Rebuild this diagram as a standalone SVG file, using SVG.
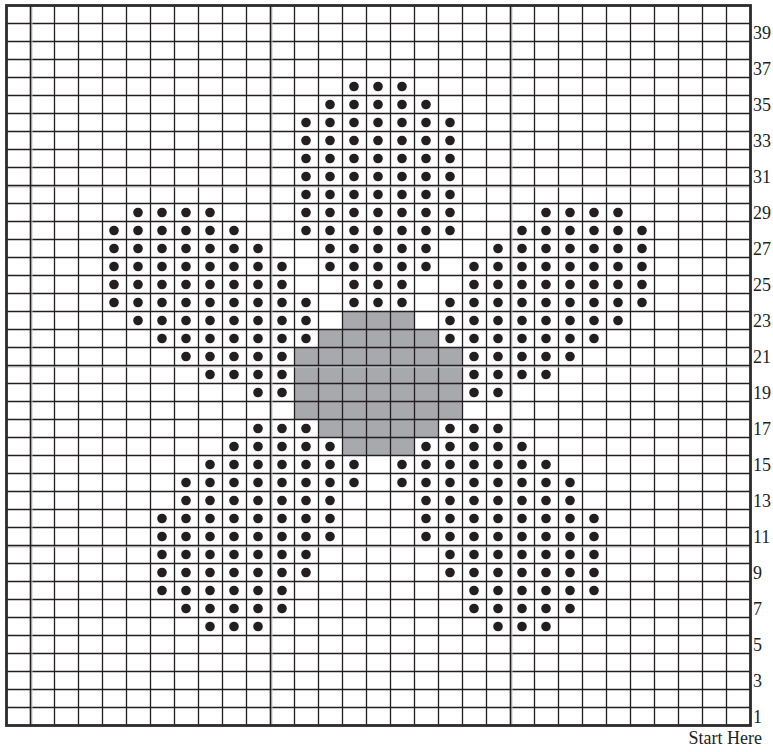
<svg xmlns="http://www.w3.org/2000/svg" width="773" height="752" viewBox="0 0 773 752">
<defs>
<circle id="d" r="4.8" fill="#231f20"/>
</defs>
<style>
.grid{stroke:#231f20;stroke-width:1.3;fill:none}
.heavy{stroke:#231f20;stroke-width:1.6;fill:none}
.shade{stroke:#c4c4c4;stroke-width:1.1;fill:none}
.border{stroke:#2d2a2b;stroke-width:2.8;fill:none}
.center{fill:#a7a9ac}
circle{fill:#231f20}
.lbl{font-family:"Liberation Serif","Times New Roman",serif;font-size:18px;fill:#231f20}
</style>
<rect width="773" height="752" fill="#ffffff"/>
<g id="center-shading">
<path class="center" d="M342.5 311.5H414.5V329.5H438.5V347.5H462.5V419.5H438.5V437.5H414.5V455.5H342.5V437.5H318.5V419.5H294.5V347.5H318.5V329.5H342.5Z"/>
</g>
<g id="grid">
<path class="grid" d="M54.5 5.5V725.5M78.5 5.5V725.5M102.5 5.5V725.5M126.5 5.5V725.5M150.5 5.5V725.5M174.5 5.5V725.5M198.5 5.5V725.5M222.5 5.5V725.5M246.5 5.5V725.5M294.5 5.5V725.5M318.5 5.5V725.5M342.5 5.5V725.5M366.5 5.5V725.5M390.5 5.5V725.5M414.5 5.5V725.5M438.5 5.5V725.5M462.5 5.5V725.5M486.5 5.5V725.5M534.5 5.5V725.5M558.5 5.5V725.5M582.5 5.5V725.5M606.5 5.5V725.5M630.5 5.5V725.5M654.5 5.5V725.5M678.5 5.5V725.5M702.5 5.5V725.5M726.5 5.5V725.5"/>
<path class="grid" d="M6.5 23.5H750.5M6.5 41.5H750.5M6.5 59.5H750.5M6.5 77.5H750.5M6.5 95.5H750.5M6.5 113.5H750.5M6.5 131.5H750.5M6.5 149.5H750.5M6.5 167.5H750.5M6.5 203.5H750.5M6.5 221.5H750.5M6.5 239.5H750.5M6.5 257.5H750.5M6.5 275.5H750.5M6.5 293.5H750.5M6.5 311.5H750.5M6.5 329.5H750.5M6.5 347.5H750.5M6.5 383.5H750.5M6.5 401.5H750.5M6.5 419.5H750.5M6.5 437.5H750.5M6.5 455.5H750.5M6.5 473.5H750.5M6.5 491.5H750.5M6.5 509.5H750.5M6.5 527.5H750.5M6.5 563.5H750.5M6.5 581.5H750.5M6.5 599.5H750.5M6.5 617.5H750.5M6.5 635.5H750.5M6.5 653.5H750.5M6.5 671.5H750.5M6.5 689.5H750.5M6.5 707.5H750.5"/>
<path class="shade" d="M31.9 5.5V725.5M271.9 5.5V725.5M511.9 5.5V725.5M6.5 186.9H750.5M6.5 366.9H750.5M6.5 546.9H750.5"/>
<path class="heavy" d="M30.5 5.5V725.5M270.5 5.5V725.5M510.5 5.5V725.5M6.5 185.5H750.5M6.5 365.5H750.5M6.5 545.5H750.5"/>
<rect class="border" x="6.5" y="5.5" width="744" height="720"/>
</g>
<g id="petal-top">
<circle cx="354" cy="86.5" r="4.8"/><circle cx="378" cy="86.5" r="4.8"/><circle cx="402" cy="86.5" r="4.8"/>
<circle cx="330" cy="104.5" r="4.8"/><circle cx="354" cy="104.5" r="4.8"/><circle cx="378" cy="104.5" r="4.8"/><circle cx="402" cy="104.5" r="4.8"/><circle cx="426" cy="104.5" r="4.8"/>
<circle cx="306" cy="122.5" r="4.8"/><circle cx="330" cy="122.5" r="4.8"/><circle cx="354" cy="122.5" r="4.8"/><circle cx="378" cy="122.5" r="4.8"/><circle cx="402" cy="122.5" r="4.8"/><circle cx="426" cy="122.5" r="4.8"/><circle cx="450" cy="122.5" r="4.8"/>
<circle cx="306" cy="140.5" r="4.8"/><circle cx="330" cy="140.5" r="4.8"/><circle cx="354" cy="140.5" r="4.8"/><circle cx="378" cy="140.5" r="4.8"/><circle cx="402" cy="140.5" r="4.8"/><circle cx="426" cy="140.5" r="4.8"/><circle cx="450" cy="140.5" r="4.8"/>
<circle cx="306" cy="158.5" r="4.8"/><circle cx="330" cy="158.5" r="4.8"/><circle cx="354" cy="158.5" r="4.8"/><circle cx="378" cy="158.5" r="4.8"/><circle cx="402" cy="158.5" r="4.8"/><circle cx="426" cy="158.5" r="4.8"/><circle cx="450" cy="158.5" r="4.8"/>
<circle cx="306" cy="176.5" r="4.8"/><circle cx="330" cy="176.5" r="4.8"/><circle cx="354" cy="176.5" r="4.8"/><circle cx="378" cy="176.5" r="4.8"/><circle cx="402" cy="176.5" r="4.8"/><circle cx="426" cy="176.5" r="4.8"/><circle cx="450" cy="176.5" r="4.8"/>
<circle cx="306" cy="194.5" r="4.8"/><circle cx="330" cy="194.5" r="4.8"/><circle cx="354" cy="194.5" r="4.8"/><circle cx="378" cy="194.5" r="4.8"/><circle cx="402" cy="194.5" r="4.8"/><circle cx="426" cy="194.5" r="4.8"/><circle cx="450" cy="194.5" r="4.8"/>
<circle cx="306" cy="212.5" r="4.8"/><circle cx="330" cy="212.5" r="4.8"/><circle cx="354" cy="212.5" r="4.8"/><circle cx="378" cy="212.5" r="4.8"/><circle cx="402" cy="212.5" r="4.8"/><circle cx="426" cy="212.5" r="4.8"/><circle cx="450" cy="212.5" r="4.8"/>
<circle cx="306" cy="230.5" r="4.8"/><circle cx="330" cy="230.5" r="4.8"/><circle cx="354" cy="230.5" r="4.8"/><circle cx="378" cy="230.5" r="4.8"/><circle cx="402" cy="230.5" r="4.8"/><circle cx="426" cy="230.5" r="4.8"/><circle cx="450" cy="230.5" r="4.8"/>
<circle cx="330" cy="248.5" r="4.8"/><circle cx="354" cy="248.5" r="4.8"/><circle cx="378" cy="248.5" r="4.8"/><circle cx="402" cy="248.5" r="4.8"/><circle cx="426" cy="248.5" r="4.8"/>
<circle cx="330" cy="266.5" r="4.8"/><circle cx="354" cy="266.5" r="4.8"/><circle cx="378" cy="266.5" r="4.8"/><circle cx="402" cy="266.5" r="4.8"/><circle cx="426" cy="266.5" r="4.8"/>
<circle cx="354" cy="284.5" r="4.8"/><circle cx="378" cy="284.5" r="4.8"/><circle cx="402" cy="284.5" r="4.8"/>
<circle cx="354" cy="302.5" r="4.8"/><circle cx="378" cy="302.5" r="4.8"/><circle cx="402" cy="302.5" r="4.8"/>
</g>
<g id="petal-left">
<circle cx="138" cy="212.5" r="4.8"/><circle cx="162" cy="212.5" r="4.8"/><circle cx="186" cy="212.5" r="4.8"/><circle cx="210" cy="212.5" r="4.8"/>
<circle cx="114" cy="230.5" r="4.8"/><circle cx="138" cy="230.5" r="4.8"/><circle cx="162" cy="230.5" r="4.8"/><circle cx="186" cy="230.5" r="4.8"/><circle cx="210" cy="230.5" r="4.8"/><circle cx="234" cy="230.5" r="4.8"/>
<circle cx="114" cy="248.5" r="4.8"/><circle cx="138" cy="248.5" r="4.8"/><circle cx="162" cy="248.5" r="4.8"/><circle cx="186" cy="248.5" r="4.8"/><circle cx="210" cy="248.5" r="4.8"/><circle cx="234" cy="248.5" r="4.8"/><circle cx="258" cy="248.5" r="4.8"/>
<circle cx="114" cy="266.5" r="4.8"/><circle cx="138" cy="266.5" r="4.8"/><circle cx="162" cy="266.5" r="4.8"/><circle cx="186" cy="266.5" r="4.8"/><circle cx="210" cy="266.5" r="4.8"/><circle cx="234" cy="266.5" r="4.8"/><circle cx="258" cy="266.5" r="4.8"/><circle cx="282" cy="266.5" r="4.8"/>
<circle cx="114" cy="284.5" r="4.8"/><circle cx="138" cy="284.5" r="4.8"/><circle cx="162" cy="284.5" r="4.8"/><circle cx="186" cy="284.5" r="4.8"/><circle cx="210" cy="284.5" r="4.8"/><circle cx="234" cy="284.5" r="4.8"/><circle cx="258" cy="284.5" r="4.8"/><circle cx="282" cy="284.5" r="4.8"/>
<circle cx="114" cy="302.5" r="4.8"/><circle cx="138" cy="302.5" r="4.8"/><circle cx="162" cy="302.5" r="4.8"/><circle cx="186" cy="302.5" r="4.8"/><circle cx="210" cy="302.5" r="4.8"/><circle cx="234" cy="302.5" r="4.8"/><circle cx="258" cy="302.5" r="4.8"/><circle cx="282" cy="302.5" r="4.8"/><circle cx="306" cy="302.5" r="4.8"/>
<circle cx="138" cy="320.5" r="4.8"/><circle cx="162" cy="320.5" r="4.8"/><circle cx="186" cy="320.5" r="4.8"/><circle cx="210" cy="320.5" r="4.8"/><circle cx="234" cy="320.5" r="4.8"/><circle cx="258" cy="320.5" r="4.8"/><circle cx="282" cy="320.5" r="4.8"/><circle cx="306" cy="320.5" r="4.8"/>
<circle cx="162" cy="338.5" r="4.8"/><circle cx="186" cy="338.5" r="4.8"/><circle cx="210" cy="338.5" r="4.8"/><circle cx="234" cy="338.5" r="4.8"/><circle cx="258" cy="338.5" r="4.8"/><circle cx="282" cy="338.5" r="4.8"/><circle cx="306" cy="338.5" r="4.8"/>
<circle cx="186" cy="356.5" r="4.8"/><circle cx="210" cy="356.5" r="4.8"/><circle cx="234" cy="356.5" r="4.8"/><circle cx="258" cy="356.5" r="4.8"/><circle cx="282" cy="356.5" r="4.8"/>
<circle cx="210" cy="374.5" r="4.8"/><circle cx="234" cy="374.5" r="4.8"/><circle cx="258" cy="374.5" r="4.8"/><circle cx="282" cy="374.5" r="4.8"/>
<circle cx="258" cy="392.5" r="4.8"/><circle cx="282" cy="392.5" r="4.8"/>
</g>
<g id="petal-right">
<circle cx="546" cy="212.5" r="4.8"/><circle cx="570" cy="212.5" r="4.8"/><circle cx="594" cy="212.5" r="4.8"/><circle cx="618" cy="212.5" r="4.8"/>
<circle cx="522" cy="230.5" r="4.8"/><circle cx="546" cy="230.5" r="4.8"/><circle cx="570" cy="230.5" r="4.8"/><circle cx="594" cy="230.5" r="4.8"/><circle cx="618" cy="230.5" r="4.8"/><circle cx="642" cy="230.5" r="4.8"/>
<circle cx="498" cy="248.5" r="4.8"/><circle cx="522" cy="248.5" r="4.8"/><circle cx="546" cy="248.5" r="4.8"/><circle cx="570" cy="248.5" r="4.8"/><circle cx="594" cy="248.5" r="4.8"/><circle cx="618" cy="248.5" r="4.8"/><circle cx="642" cy="248.5" r="4.8"/>
<circle cx="474" cy="266.5" r="4.8"/><circle cx="498" cy="266.5" r="4.8"/><circle cx="522" cy="266.5" r="4.8"/><circle cx="546" cy="266.5" r="4.8"/><circle cx="570" cy="266.5" r="4.8"/><circle cx="594" cy="266.5" r="4.8"/><circle cx="618" cy="266.5" r="4.8"/><circle cx="642" cy="266.5" r="4.8"/>
<circle cx="474" cy="284.5" r="4.8"/><circle cx="498" cy="284.5" r="4.8"/><circle cx="522" cy="284.5" r="4.8"/><circle cx="546" cy="284.5" r="4.8"/><circle cx="570" cy="284.5" r="4.8"/><circle cx="594" cy="284.5" r="4.8"/><circle cx="618" cy="284.5" r="4.8"/><circle cx="642" cy="284.5" r="4.8"/>
<circle cx="450" cy="302.5" r="4.8"/><circle cx="474" cy="302.5" r="4.8"/><circle cx="498" cy="302.5" r="4.8"/><circle cx="522" cy="302.5" r="4.8"/><circle cx="546" cy="302.5" r="4.8"/><circle cx="570" cy="302.5" r="4.8"/><circle cx="594" cy="302.5" r="4.8"/><circle cx="618" cy="302.5" r="4.8"/><circle cx="642" cy="302.5" r="4.8"/>
<circle cx="450" cy="320.5" r="4.8"/><circle cx="474" cy="320.5" r="4.8"/><circle cx="498" cy="320.5" r="4.8"/><circle cx="522" cy="320.5" r="4.8"/><circle cx="546" cy="320.5" r="4.8"/><circle cx="570" cy="320.5" r="4.8"/><circle cx="594" cy="320.5" r="4.8"/><circle cx="618" cy="320.5" r="4.8"/>
<circle cx="450" cy="338.5" r="4.8"/><circle cx="474" cy="338.5" r="4.8"/><circle cx="498" cy="338.5" r="4.8"/><circle cx="522" cy="338.5" r="4.8"/><circle cx="546" cy="338.5" r="4.8"/><circle cx="570" cy="338.5" r="4.8"/><circle cx="594" cy="338.5" r="4.8"/>
<circle cx="474" cy="356.5" r="4.8"/><circle cx="498" cy="356.5" r="4.8"/><circle cx="522" cy="356.5" r="4.8"/><circle cx="546" cy="356.5" r="4.8"/><circle cx="570" cy="356.5" r="4.8"/>
<circle cx="474" cy="374.5" r="4.8"/><circle cx="498" cy="374.5" r="4.8"/><circle cx="522" cy="374.5" r="4.8"/><circle cx="546" cy="374.5" r="4.8"/>
<circle cx="474" cy="392.5" r="4.8"/><circle cx="498" cy="392.5" r="4.8"/>
</g>
<g id="petal-lower-left">
<circle cx="258" cy="428.5" r="4.8"/><circle cx="282" cy="428.5" r="4.8"/><circle cx="306" cy="428.5" r="4.8"/>
<circle cx="234" cy="446.5" r="4.8"/><circle cx="258" cy="446.5" r="4.8"/><circle cx="282" cy="446.5" r="4.8"/><circle cx="306" cy="446.5" r="4.8"/><circle cx="330" cy="446.5" r="4.8"/>
<circle cx="210" cy="464.5" r="4.8"/><circle cx="234" cy="464.5" r="4.8"/><circle cx="258" cy="464.5" r="4.8"/><circle cx="282" cy="464.5" r="4.8"/><circle cx="306" cy="464.5" r="4.8"/><circle cx="330" cy="464.5" r="4.8"/><circle cx="354" cy="464.5" r="4.8"/>
<circle cx="186" cy="482.5" r="4.8"/><circle cx="210" cy="482.5" r="4.8"/><circle cx="234" cy="482.5" r="4.8"/><circle cx="258" cy="482.5" r="4.8"/><circle cx="282" cy="482.5" r="4.8"/><circle cx="306" cy="482.5" r="4.8"/><circle cx="330" cy="482.5" r="4.8"/><circle cx="354" cy="482.5" r="4.8"/>
<circle cx="186" cy="500.5" r="4.8"/><circle cx="210" cy="500.5" r="4.8"/><circle cx="234" cy="500.5" r="4.8"/><circle cx="258" cy="500.5" r="4.8"/><circle cx="282" cy="500.5" r="4.8"/><circle cx="306" cy="500.5" r="4.8"/><circle cx="330" cy="500.5" r="4.8"/>
<circle cx="162" cy="518.5" r="4.8"/><circle cx="186" cy="518.5" r="4.8"/><circle cx="210" cy="518.5" r="4.8"/><circle cx="234" cy="518.5" r="4.8"/><circle cx="258" cy="518.5" r="4.8"/><circle cx="282" cy="518.5" r="4.8"/><circle cx="306" cy="518.5" r="4.8"/><circle cx="330" cy="518.5" r="4.8"/>
<circle cx="162" cy="536.5" r="4.8"/><circle cx="186" cy="536.5" r="4.8"/><circle cx="210" cy="536.5" r="4.8"/><circle cx="234" cy="536.5" r="4.8"/><circle cx="258" cy="536.5" r="4.8"/><circle cx="282" cy="536.5" r="4.8"/><circle cx="306" cy="536.5" r="4.8"/><circle cx="330" cy="536.5" r="4.8"/>
<circle cx="162" cy="554.5" r="4.8"/><circle cx="186" cy="554.5" r="4.8"/><circle cx="210" cy="554.5" r="4.8"/><circle cx="234" cy="554.5" r="4.8"/><circle cx="258" cy="554.5" r="4.8"/><circle cx="282" cy="554.5" r="4.8"/><circle cx="306" cy="554.5" r="4.8"/>
<circle cx="162" cy="572.5" r="4.8"/><circle cx="186" cy="572.5" r="4.8"/><circle cx="210" cy="572.5" r="4.8"/><circle cx="234" cy="572.5" r="4.8"/><circle cx="258" cy="572.5" r="4.8"/><circle cx="282" cy="572.5" r="4.8"/><circle cx="306" cy="572.5" r="4.8"/>
<circle cx="162" cy="590.5" r="4.8"/><circle cx="186" cy="590.5" r="4.8"/><circle cx="210" cy="590.5" r="4.8"/><circle cx="234" cy="590.5" r="4.8"/><circle cx="258" cy="590.5" r="4.8"/><circle cx="282" cy="590.5" r="4.8"/>
<circle cx="186" cy="608.5" r="4.8"/><circle cx="210" cy="608.5" r="4.8"/><circle cx="234" cy="608.5" r="4.8"/><circle cx="258" cy="608.5" r="4.8"/><circle cx="282" cy="608.5" r="4.8"/>
<circle cx="210" cy="626.5" r="4.8"/><circle cx="234" cy="626.5" r="4.8"/><circle cx="258" cy="626.5" r="4.8"/>
</g>
<g id="petal-lower-right">
<circle cx="450" cy="428.5" r="4.8"/><circle cx="474" cy="428.5" r="4.8"/><circle cx="498" cy="428.5" r="4.8"/>
<circle cx="426" cy="446.5" r="4.8"/><circle cx="450" cy="446.5" r="4.8"/><circle cx="474" cy="446.5" r="4.8"/><circle cx="498" cy="446.5" r="4.8"/><circle cx="522" cy="446.5" r="4.8"/>
<circle cx="402" cy="464.5" r="4.8"/><circle cx="426" cy="464.5" r="4.8"/><circle cx="450" cy="464.5" r="4.8"/><circle cx="474" cy="464.5" r="4.8"/><circle cx="498" cy="464.5" r="4.8"/><circle cx="522" cy="464.5" r="4.8"/><circle cx="546" cy="464.5" r="4.8"/>
<circle cx="402" cy="482.5" r="4.8"/><circle cx="426" cy="482.5" r="4.8"/><circle cx="450" cy="482.5" r="4.8"/><circle cx="474" cy="482.5" r="4.8"/><circle cx="498" cy="482.5" r="4.8"/><circle cx="522" cy="482.5" r="4.8"/><circle cx="546" cy="482.5" r="4.8"/><circle cx="570" cy="482.5" r="4.8"/>
<circle cx="426" cy="500.5" r="4.8"/><circle cx="450" cy="500.5" r="4.8"/><circle cx="474" cy="500.5" r="4.8"/><circle cx="498" cy="500.5" r="4.8"/><circle cx="522" cy="500.5" r="4.8"/><circle cx="546" cy="500.5" r="4.8"/><circle cx="570" cy="500.5" r="4.8"/>
<circle cx="426" cy="518.5" r="4.8"/><circle cx="450" cy="518.5" r="4.8"/><circle cx="474" cy="518.5" r="4.8"/><circle cx="498" cy="518.5" r="4.8"/><circle cx="522" cy="518.5" r="4.8"/><circle cx="546" cy="518.5" r="4.8"/><circle cx="570" cy="518.5" r="4.8"/><circle cx="594" cy="518.5" r="4.8"/>
<circle cx="426" cy="536.5" r="4.8"/><circle cx="450" cy="536.5" r="4.8"/><circle cx="474" cy="536.5" r="4.8"/><circle cx="498" cy="536.5" r="4.8"/><circle cx="522" cy="536.5" r="4.8"/><circle cx="546" cy="536.5" r="4.8"/><circle cx="570" cy="536.5" r="4.8"/><circle cx="594" cy="536.5" r="4.8"/>
<circle cx="450" cy="554.5" r="4.8"/><circle cx="474" cy="554.5" r="4.8"/><circle cx="498" cy="554.5" r="4.8"/><circle cx="522" cy="554.5" r="4.8"/><circle cx="546" cy="554.5" r="4.8"/><circle cx="570" cy="554.5" r="4.8"/><circle cx="594" cy="554.5" r="4.8"/>
<circle cx="450" cy="572.5" r="4.8"/><circle cx="474" cy="572.5" r="4.8"/><circle cx="498" cy="572.5" r="4.8"/><circle cx="522" cy="572.5" r="4.8"/><circle cx="546" cy="572.5" r="4.8"/><circle cx="570" cy="572.5" r="4.8"/><circle cx="594" cy="572.5" r="4.8"/>
<circle cx="474" cy="590.5" r="4.8"/><circle cx="498" cy="590.5" r="4.8"/><circle cx="522" cy="590.5" r="4.8"/><circle cx="546" cy="590.5" r="4.8"/><circle cx="570" cy="590.5" r="4.8"/><circle cx="594" cy="590.5" r="4.8"/>
<circle cx="474" cy="608.5" r="4.8"/><circle cx="498" cy="608.5" r="4.8"/><circle cx="522" cy="608.5" r="4.8"/><circle cx="546" cy="608.5" r="4.8"/><circle cx="570" cy="608.5" r="4.8"/>
<circle cx="498" cy="626.5" r="4.8"/><circle cx="522" cy="626.5" r="4.8"/><circle cx="546" cy="626.5" r="4.8"/>
</g>
<g id="row-labels" class="lbl">
<text x="753" y="39">39</text>
<text x="753" y="75">37</text>
<text x="753" y="111">35</text>
<text x="753" y="147">33</text>
<text x="753" y="183">31</text>
<text x="753" y="219">29</text>
<text x="753" y="255">27</text>
<text x="753" y="291">25</text>
<text x="753" y="327">23</text>
<text x="753" y="363">21</text>
<text x="753" y="399">19</text>
<text x="753" y="435">17</text>
<text x="753" y="471">15</text>
<text x="753" y="507">13</text>
<text x="753" y="543">11</text>
<text x="753" y="579">9</text>
<text x="753" y="615">7</text>
<text x="753" y="651">5</text>
<text x="753" y="687">3</text>
<text x="753" y="723">1</text>
</g>
<g id="start-label" class="lbl">
<text x="762" y="743.5" text-anchor="end">Start Here</text>
</g>
</svg>
